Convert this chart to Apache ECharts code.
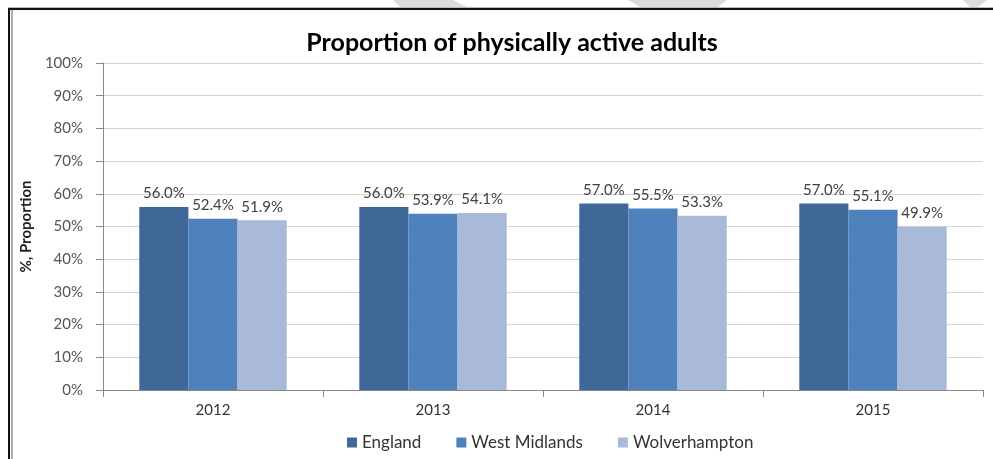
<!DOCTYPE html>
<html><head><meta charset="utf-8">
<script src="https://cdn.jsdelivr.net/npm/echarts@6/dist/echarts.min.js"></script>
<style>html,body{margin:0;padding:0;background:#fff}#c{width:993px;height:459px}</style>
</head><body><div id="c"></div>
<script>
const years = ['2012','2013','2014','2015'];
const england = [56.0, 56.0, 57.0, 57.0];
const westMidlands = [52.4, 53.9, 55.5, 55.1];
const wolverhampton = [51.9, 54.1, 53.3, 49.9];
const seriesNames = ['England','West Midlands','Wolverhampton'];
const colors = ['#3F6899','#4F81BD','#A9B9D8'];
const F = 'Lato, "Open Sans", sans-serif';
const chart = echarts.init(document.getElementById('c'));
const mk = (name, data, color) => ({
  name, type:'bar', data, barGap:'0%', barCategoryGap:'33%',
  itemStyle:{color},
  label:{show:true, position:'top', distance:6, formatter:p=>p.value.toFixed(1)+'%', color:'#404040', fontFamily:F, fontSize:15}
});
chart.setOption({
  animation:false,
  title:{text:'Proportion of physically active adults', left:507, top:25, textAlign:'center',
    textStyle:{fontFamily:F, fontWeight:'bold', fontSize:25, color:'#000'}},
  graphic:[
    {type:'polygon', shape:{points:[[393,0],[453,0],[467,7],[400,7]]}, style:{fill:'#dcdcdc'}},
    {type:'polygon', shape:{points:[[628,0],[727,0],[718,7],[640,7]]}, style:{fill:'#dcdcdc'}},
    {type:'polygon', shape:{points:[[963,0],[987,0],[978,7],[970,7]]}, style:{fill:'#dcdcdc'}},
    {type:'rect', shape:{x:8,y:7,width:985,height:1}, style:{fill:'#bbb'}},
    {type:'rect', shape:{x:8,y:8,width:2,height:451}, style:{fill:'#111'}},
    {type:'rect', shape:{x:8,y:8,width:985,height:2}, style:{fill:'#111'}},
    {type:'rect', shape:{x:11,y:10,width:2,height:449}, style:{fill:'#a8b0b6'}}
  ],
  legend:{bottom:3, left:342, itemWidth:10, itemHeight:10, itemGap:35, icon:'rect',
    textStyle:{fontFamily:F, fontSize:17, color:'#333'}, data:seriesNames},
  grid:{left:103, right:10, top:63, bottom:69},
  xAxis:{type:'category', data:years,
    axisLine:{lineStyle:{color:'#888'}}, axisTick:{show:true, length:7, lineStyle:{color:'#888'}},
    axisLabel:{fontFamily:F, fontSize:15, color:'#333', margin:13}},
  yAxis:{type:'value', min:0, max:100, interval:10,
    name:'%, Proportion', nameLocation:'middle', nameGap:64, nameRotate:90,
    nameTextStyle:{fontFamily:F, fontWeight:'bold', fontSize:15, color:'#222'},
    axisLine:{show:true, lineStyle:{color:'#888'}}, axisTick:{show:true, length:7, lineStyle:{color:'#888'}},
    axisLabel:{fontFamily:F, fontSize:15, color:'#555', formatter:'{value}%', margin:20},
    splitLine:{lineStyle:{color:'#d4d4d4'}}},
  series:[mk(seriesNames[0], england, colors[0]), mk(seriesNames[1], westMidlands, colors[1]), mk(seriesNames[2], wolverhampton, colors[2])]
});
</script></body></html>
